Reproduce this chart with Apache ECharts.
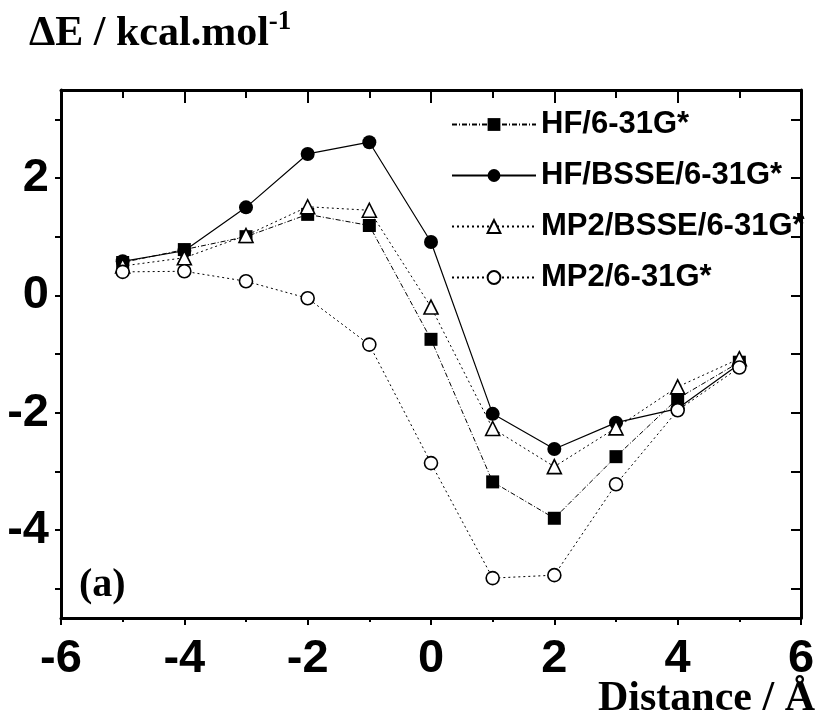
<!DOCTYPE html>
<html>
<head>
<meta charset="utf-8">
<script src="https://cdn.jsdelivr.net/npm/echarts@6/dist/echarts.min.js"></script>
<style>html,body{margin:0;padding:0;background:#fff}#c{width:821px;height:720px}</style>
</head>
<body>
<div id="c"></div>
<script>
const distances = [-5, -4, -3, -2, -1, 0, 1, 2, 3, 4, 5];
const hf = [0.56, 0.78, 1.00, 1.38, 1.19, -0.75, -3.18, -3.80, -2.75, -1.76, -1.14];
const hfBsse = [0.58, 0.76, 1.50, 2.41, 2.61, 0.91, -2.02, -2.62, -2.17, -1.93, -1.17];
const mp2Bsse = [0.50, 0.64, 1.02, 1.51, 1.45, -0.20, -2.27, -2.92, -2.26, -1.56, -1.08];
const mp2 = [0.40, 0.41, 0.24, -0.05, -0.84, -2.86, -4.82, -4.77, -3.22, -1.96, -1.23];
const seriesNames = ['HF/6-31G*', 'HF/BSSE/6-31G*', 'MP2/BSSE/6-31G*', 'MP2/6-31G*'];
const xTickLabels = [-6, -4, -2, 0, 2, 4, 6];
const yTickLabels = [-4, -2, 0, 2];
const yTicks = [-5, -4, -3, -2, -1, 0, 1, 2, 3];

const pairs = arr => distances.map((d, i) => [d, arr[i]]);
const chart = echarts.init(document.getElementById('c'), null, {renderer: 'canvas'});
const lbl = {fontFamily: 'Liberation Sans, Arial, sans-serif', fontWeight: 'bold', fontSize: 47, color: '#000'};
const serif = 'Liberation Serif, Times New Roman, serif';

function mk(name, data, symbol, size, filled, ltype, lw) {
  return {
    name: name, type: 'line', data: pairs(data), xAxisIndex: 0, yAxisIndex: 0,
    symbol: symbol, symbolSize: size, showSymbol: true,
    lineStyle: {color: '#000', width: lw, type: ltype},
    itemStyle: {color: filled ? '#000' : '#fff', borderColor: '#000', borderWidth: filled ? 0 : 1.6},
    emphasis: {disabled: true}, animation: false
  };
}

chart.setOption({
  animation: false,
  backgroundColor: '#fff',
  title: {
    text: '{b|ΔE / kcal.mol}{s|-1}',
    left: 24, top: 4,
    textStyle: {
      rich: {
        b: {fontFamily: serif, fontWeight: 'bold', fontSize: 42, color: '#000', lineHeight: 50},
        s: {fontFamily: serif, fontWeight: 'bold', fontSize: 27, color: '#000', verticalAlign: 'top', lineHeight: 27}
      }
    }
  },
  grid: {left: 61, right: 20, top: 90, bottom: 102, containLabel: false},
  legend: {
    orient: 'vertical', left: 446, top: 104,
    itemWidth: 84, itemHeight: 16, itemGap: 20,
    data: seriesNames,
    textStyle: {fontFamily: 'Liberation Sans, Arial, sans-serif', fontWeight: 'bold', fontSize: 31, color: '#000', padding: 0}
  },
  xAxis: [{
    type: 'value', position: 'bottom', min: -6, max: 6, interval: 2,
    axisLine: {show: true, onZero: false, lineStyle: {color: '#000', width: 3}},
    axisTick: {show: true, inside: false, length: 7, lineStyle: {color: '#000', width: 2}},
    minorTick: {show: true, splitNumber: 2, length: 4, lineStyle: {color: '#000', width: 2}},
    splitLine: {show: false},
    axisLabel: {show: true, margin: 18, ...lbl, customValues: xTickLabels}
  }, {
    type: 'value', position: 'top', min: -6, max: 6, interval: 2,
    axisLine: {show: true, onZero: false, lineStyle: {color: '#000', width: 3}},
    axisTick: {show: true, inside: true, length: 13, lineStyle: {color: '#000', width: 2}},
    minorTick: {show: true, splitNumber: 2, length: 8, lineStyle: {color: '#000', width: 2}},
    splitLine: {show: false}, axisLabel: {show: false}
  }],
  yAxis: [{
    type: 'value', position: 'left', min: -5.5, max: 3.5,
    axisLine: {show: true, onZero: false, lineStyle: {color: '#000', width: 3}},
    axisTick: {show: true, inside: false, length: 6, customValues: yTicks, lineStyle: {color: '#000', width: 2}},
    splitLine: {show: false},
    axisLabel: {show: true, margin: 12, ...lbl, customValues: yTickLabels}
  }, {
    type: 'value', position: 'right', min: -5.5, max: 3.5,
    axisLine: {show: true, onZero: false, lineStyle: {color: '#000', width: 3}},
    axisTick: {show: true, inside: true, length: 10, customValues: yTicks, lineStyle: {color: '#000', width: 2}},
    splitLine: {show: false}, axisLabel: {show: false}
  }],
  graphic: [
    {type: 'text', left: 79, top: 566, style: {text: '(a)', fontFamily: serif, fontWeight: 'bold', fontSize: 40, fill: '#000'}},
    {type: 'text', right: 6, top: 678, style: {text: 'Distance / Å', fontFamily: serif, fontWeight: 'bold', fontSize: 42, fill: '#000'}}
  ],
  series: [
    mk(seriesNames[0], hf, 'rect', 13, true, [5, 2, 1, 2], 1),
    mk(seriesNames[1], hfBsse, 'circle', 14, true, 'solid', 1.2),
    mk(seriesNames[2], mp2Bsse, 'triangle', 14, false, [2, 3], 1),
    mk(seriesNames[3], mp2, 'circle', 13, false, [2, 3], 1)
  ]
});
</script>
</body>
</html>
